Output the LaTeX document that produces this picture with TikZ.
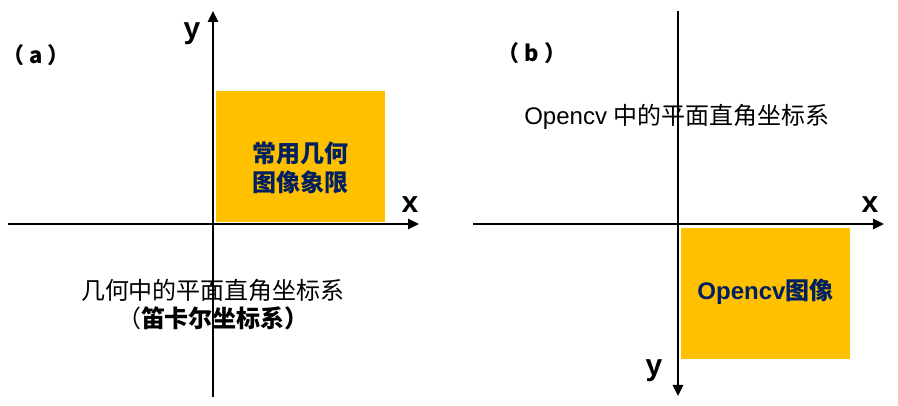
\documentclass[tikz,border=0pt]{standalone}
\usepackage{fontspec}
\setmainfont{Liberation Sans}
\newfontfamily\cjk{Noto Sans CJK SC}
\usetikzlibrary{arrows.meta}
\definecolor{gold}{HTML}{FFC000}
\definecolor{navy}{HTML}{002060}
\tikzset{
  axis/.style={line width=2.5pt, -{Triangle[length=11pt,width=10pt]}},
  quad/.style={fill=gold, draw=none},
  axlabel/.style={font=\fontsize{30}{32}\selectfont\bfseries, inner sep=0pt},
  tag/.style={font=\fontsize{22}{24}\selectfont\cjk\bfseries, inner sep=0pt},
  boxtext/.style={font=\fontsize{24}{29}\selectfont\cjk\bfseries, text=navy, align=center, inner sep=0pt},
  note/.style={font=\fontsize{24}{28}\selectfont, align=center, inner sep=0pt}
}
\begin{document}
\begin{tikzpicture}[x=1pt,y=-1pt]
\useasboundingbox (0,0) rectangle (898,406);
% panel (a)
\fill[quad] (216,91) rectangle (385,222);
\coordinate (aL) at (8,224);
\coordinate (aR) at (419,224);
\coordinate (aB) at (213,397);
\coordinate (aT) at (213,11);
\draw[axis] (aL) -- (aR);
\draw[axis] (aB) -- (aT);
\node[axlabel] (ay) at (192,34) {y};
\node[axlabel] (ax) at (410,205) {x};
\node[tag] (ta) at (36,55) {（\hspace{5pt}a\hspace{5pt}）};
\node[boxtext] (qa) at (300,167.5) {常用几何\\图像象限};
\node[note] (na) at (213,305) {{\cjk 几何中的平面直角坐标系}\\{\cjk （\bfseries 笛卡尔坐标系）}};
% panel (b)
\fill[quad] (681,228) rectangle (850,359);
\coordinate (bL) at (473,224);
\coordinate (bR) at (884,224);
\coordinate (bT) at (678,11);
\coordinate (bB) at (678,396);
\draw[axis] (bL) -- (bR);
\draw[axis] (bT) -- (bB);
\node[axlabel] (bx) at (870,205) {x};
\node[axlabel] (by) at (654,371) {y};
\node[tag] (tb) at (532,53) {（\hspace{5pt}b\hspace{5pt}）};
\node[note] (nb) at (677,117) {Opencv {\cjk 中的平面直角坐标系}};
\node[boxtext] (qb) at (765.5,292) {\fontspec{Liberation Sans}\bfseries Opencv{\cjk\bfseries 图像}};
\end{tikzpicture}
\end{document}
